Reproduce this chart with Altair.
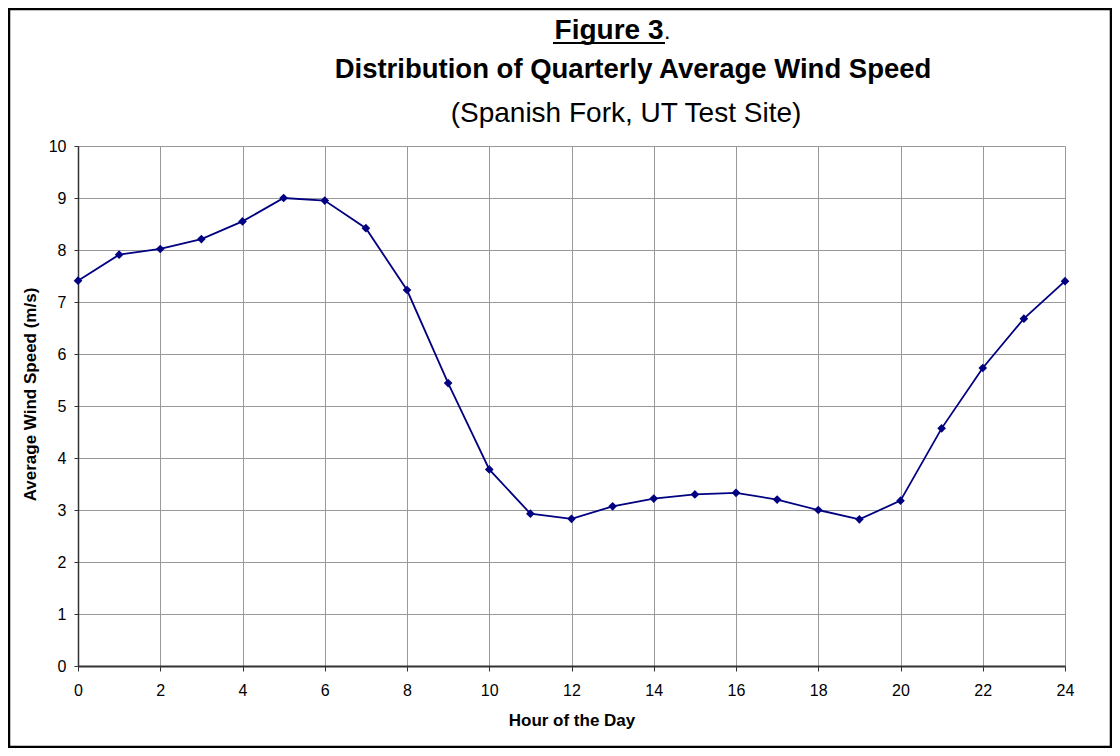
import altair as alt
import pandas as pd

hours = list(range(25))
speeds = [7.41, 7.91, 8.02, 8.21, 8.55, 9.00, 8.95, 8.42, 7.23, 5.44, 3.78,
          2.93, 2.83, 3.07, 3.22, 3.30, 3.33, 3.20, 3.00, 2.82, 3.18, 4.57,
          5.73, 6.68, 7.40]
x_ticks = list(range(0, 25, 2))
y_ticks = list(range(0, 11))

title_main = "Figure 3"
title_line2 = "Distribution of Quarterly Average Wind Speed"
title_line3 = "(Spanish Fork, UT Test Site)"
x_title = "Hour of the Day"
y_title = "Average Wind Speed (m/s)"

df = pd.DataFrame({"hour": hours, "speed": speeds})
FONT = "Liberation Sans"
W, H = 987, 520

x_enc = alt.X("hour:Q", scale=alt.Scale(domain=[0, 24], nice=False),
              axis=alt.Axis(values=x_ticks, title=x_title, grid=True,
                            gridColor="#999999", gridWidth=1,
                            domainColor="#333333", domainWidth=2,
                            tickColor="#333333", tickSize=5,
                            labelFontSize=16, labelPadding=11, labelFont=FONT,
                            labelColor="#000000", labelFlush=False, labelOverlap=False,
                            titleFont=FONT, titleFontSize=17, titleFontWeight="bold",
                            titleColor="#000000", titleY=54, titleBaseline="middle"))
y_enc = alt.Y("speed:Q", scale=alt.Scale(domain=[0, 10], nice=False),
              axis=alt.Axis(values=y_ticks, title=y_title, grid=True,
                            gridColor="#999999", gridWidth=1,
                            domainColor="#333333", domainWidth=1.5,
                            tickColor="#333333", tickSize=4,
                            labelFontSize=16, labelPadding=8, labelFont=FONT,
                            labelColor="#000000", labelFlush=False, labelOverlap=False,
                            titleFont=FONT, titleFontSize=17, titleFontWeight="bold",
                            titleColor="#000000", titleX=-48, titleY=248,
                            titleBaseline="middle", titleAlign="center"))

line = alt.Chart(df).mark_line(color="#000080", strokeWidth=1.8).encode(x=x_enc, y=y_enc)
pts = alt.Chart(df).mark_point(shape="diamond", filled=True, color="#000080",
                               size=75, opacity=1).encode(x="hour:Q", y="speed:Q")

one = pd.DataFrame({"a": [0]})
t1 = alt.Chart(one).mark_text(text=title_main, font=FONT, fontSize=28, fontWeight="bold",
                              align="center", baseline="alphabetic", color="#000000").encode(
    x=alt.value(531), y=alt.value(-107))
t1dot = alt.Chart(one).mark_text(text=".", font=FONT, fontSize=16, fontWeight="bold",
                                 align="left", baseline="alphabetic", color="#000000").encode(
    x=alt.value(587), y=alt.value(-107))
underline = alt.Chart(one).mark_rule(color="#000000", strokeWidth=2).encode(
    x=alt.value(475), x2=alt.value(587), y=alt.value(-103))
t2 = alt.Chart(one).mark_text(text=title_line2, font=FONT, fontSize=27.5, fontWeight="bold",
                              align="center", baseline="alphabetic", color="#000000").encode(
    x=alt.value(555), y=alt.value(-68))
t3 = alt.Chart(one).mark_text(text=title_line3, font=FONT, fontSize=28,
                              align="center", baseline="alphabetic", color="#000000").encode(
    x=alt.value(548), y=alt.value(-24))
border = alt.Chart(one).mark_rect(fill=None, stroke="#000000", strokeWidth=2.5).encode(
    x=alt.value(-69), x2=alt.value(1033), y=alt.value(-137), y2=alt.value(601))

chart = alt.layer(line, pts, t1, t1dot, underline, t2, t3, border).properties(
    width=W, height=H,
    autosize=alt.AutoSizeParams(type="none"),
    padding={"left": 70, "top": 138, "right": 47, "bottom": 82},
    background="#ffffff",
).configure_view(stroke=None)

chart.save("out.html", embed_options={"renderer": "svg", "actions": False})
